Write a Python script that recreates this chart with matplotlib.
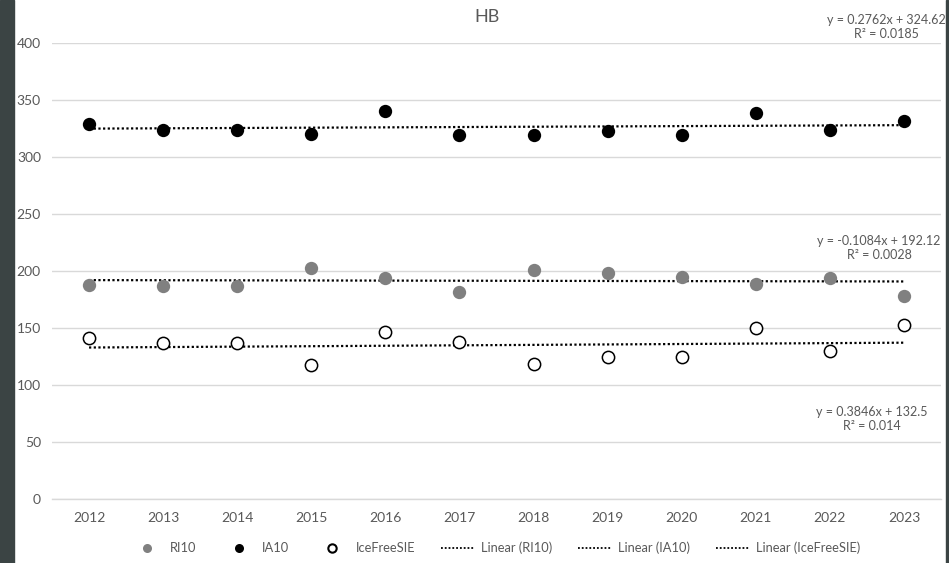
import matplotlib
matplotlib.use("Agg")
import matplotlib.pyplot as plt
from matplotlib.patches import Rectangle
from matplotlib.lines import Line2D
import numpy as np

plt.rcParams['font.family'] = ['Lato', 'DejaVu Sans']

years = ['2012', '2013', '2014', '2015', '2016', '2017', '2018', '2019', '2020', '2021', '2022', '2023']
ri10 = [187.4, 186.8, 186.8, 202.6, 193.5, 181.8, 200.6, 197.9, 194.7, 188.8, 193.5, 178.5]
ia10 = [328.8, 323.5, 323.5, 320.4, 340.6, 319.7, 319.7, 322.4, 319.7, 338.5, 323.5, 331.5]
icefree = [140.9, 137.1, 137.1, 117.6, 146.8, 137.6, 118.5, 124.9, 124.9, 150.0, 129.7, 152.6]

# trendline coefficients shown on chart (x = 1..12)
slopes = {'RI10': -0.1084, 'IA10': 0.2762, 'IceFreeSIE': 0.3846}
intercepts = {'RI10': 192.12, 'IA10': 324.62, 'IceFreeSIE': 132.5}
eq_texts = {'IA10': 'y = 0.2762x + 324.62\nR² = 0.0185',
            'RI10': 'y = -0.1084x + 192.12\nR² = 0.0028',
            'IceFreeSIE': 'y = 0.3846x + 132.5\nR² = 0.014'}

W, H = 949, 563
fig = plt.figure(figsize=(W / 100, H / 100), dpi=100)
fig.patch.set_facecolor('white')
ax = fig.add_axes([52 / W, (H - 499) / H, 889 / W, 456 / H])

txt = '#595959'
grid = '#d9d9d9'
pos = np.arange(len(years))

s = 92
ax.scatter(pos, ri10, s=s, color='#808080', zorder=3, linewidths=0)
ax.scatter(pos, ia10, s=s, color='black', zorder=3, linewidths=0)
ax.scatter(pos, icefree, s=s * 0.85, facecolor='white', edgecolor='black', linewidths=1.1, zorder=3)

xx = np.arange(1, len(years) + 1)
for k in ['RI10', 'IA10', 'IceFreeSIE']:
    ax.plot(pos, slopes[k] * xx + intercepts[k], color='black', lw=1.6,
            linestyle=(0, (1, 1.1)), zorder=2)

ax.set_xlim(-0.5, len(years) - 0.5)
ax.set_ylim(0, 400)
ax.set_yticks(np.arange(0, 401, 50))
ax.set_xticks(pos)
ax.set_xticklabels(years)
ax.tick_params(length=0, colors=txt, labelsize=10)
ax.tick_params(axis='x', pad=9)
ax.tick_params(axis='y', pad=8)
ax.grid(axis='y', color=grid, lw=1)
ax.set_axisbelow(True)
for sp in ['top', 'right', 'left']:
    ax.spines[sp].set_visible(False)
ax.spines['bottom'].set_color(grid)
ax.spines['bottom'].set_linewidth(1)

fig.text(487 / W, 1 - 17 / H, 'HB', ha='center', va='center', color=txt, fontsize=13)

def ftext(x, y, s):
    fig.text(x / W, 1 - y / H, s, ha='center', va='center', color=txt, fontsize=9,
             linespacing=1.25, multialignment='center')

ftext(886, 27, eq_texts['IA10'])
ftext(879, 248, eq_texts['RI10'])
ftext(872, 419, eq_texts['IceFreeSIE'])

handles = [
    Line2D([], [], marker='o', ls='none', color='#808080', markersize=6.5, markeredgewidth=0),
    Line2D([], [], marker='o', ls='none', color='black', markersize=6.5, markeredgewidth=0),
    Line2D([], [], marker='o', ls='none', markerfacecolor='white', markeredgecolor='black',
           markersize=6, markeredgewidth=1.5),
    Line2D([], [], color='black', lw=1.3, ls=(0, (1, 1.1))),
    Line2D([], [], color='black', lw=1.3, ls=(0, (1, 1.1))),
    Line2D([], [], color='black', lw=1.3, ls=(0, (1, 1.1))),
]
labels = ['RI10', 'IA10', 'IceFreeSIE', 'Linear (RI10)', 'Linear (IA10)', 'Linear (IceFreeSIE)']
leg = fig.legend(handles, labels, loc='center', bbox_to_anchor=(495 / W, 1 - 548 / H), ncol=6,
                 frameon=False, fontsize=9.3, handlelength=2.6, columnspacing=2.0,
                 handletextpad=0.5, labelcolor=txt)

fig.patches.append(Rectangle((0, 0), 14 / W, 1, transform=fig.transFigure, color='#3b4444', zorder=0))
fig.patches.append(Rectangle((946 / W, 0), 2 / W, 1, transform=fig.transFigure, color='#3b4444', zorder=0))

fig.savefig('out.png', dpi=100)
